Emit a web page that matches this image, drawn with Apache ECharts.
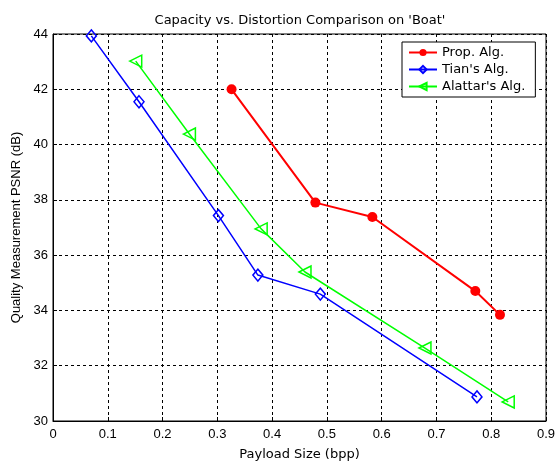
<!DOCTYPE html>
<html>
<head>
<meta charset="utf-8">
<script src="https://cdn.jsdelivr.net/npm/echarts@6/dist/echarts.min.js"></script>
<style>
  html, body { margin: 0; padding: 0; background: #fff; }
  #chart { width: 556px; height: 462px; }
</style>
</head>
<body>
<div id="chart"></div>
<script>
// payload (bpp) vs PSNR (dB)
var propX = [0.326, 0.479, 0.583, 0.771, 0.816];
var propY = [42.0, 37.9, 37.38, 34.7, 33.84];
var tianX = [0.070, 0.157, 0.302, 0.374, 0.488, 0.774];
var tianY = [43.93, 41.55, 37.43, 35.28, 34.59, 30.87];
var alatX = [0.151, 0.249, 0.380, 0.460, 0.679, 0.831];
var alatY = [43.02, 40.38, 36.95, 35.39, 32.64, 30.69];
var seriesNames = ['Prop. Alg.', "Tian's Alg.", "Alattar's Alg."];

function pairs(xs, ys) {
  return xs.map(function(x, i) { return [x, ys[i]]; });
}

var font = 'Liberation Sans, Arial, sans-serif';
var wide = 'DejaVu Sans, sans-serif';
var chart = echarts.init(document.getElementById('chart'), null, { renderer: 'canvas' });

chart.setOption({
  animation: false,
  backgroundColor: '#fff',
  title: {
    text: "Capacity vs. Distortion Comparison on 'Boat'",
    left: 295, top: 9, textAlign: 'center',
    textStyle: { fontFamily: wide, fontSize: 13, fontWeight: 'normal', color: '#000' }
  },
  legend: {
    orient: 'vertical',
    left: 402, top: 42,
    backgroundColor: '#fff',
    borderColor: '#000',
    borderWidth: 1,
    borderRadius: 0,
    padding: [4, 10, 4, 6],
    itemGap: 4,
    itemWidth: 28,
    itemHeight: 9,
    textStyle: { fontFamily: wide, fontSize: 13, color: '#000' },
    data: seriesNames
  },
  grid: {
    left: 53, right: 10, top: 34, bottom: 41,
    outerBoundsMode: 'none',
    show: true, borderColor: '#000', borderWidth: 1, backgroundColor: '#fff'
  },
  xAxis: {
    type: 'value', min: 0, max: 0.9, interval: 0.1,
    name: 'Payload Size (bpp)', nameLocation: 'middle', nameGap: 27,
    nameTextStyle: { fontFamily: wide, fontSize: 13, color: '#000' },
    axisLine: { lineStyle: { color: '#000' } },
    axisTick: { inside: true, length: 4, lineStyle: { color: '#000' } },
    axisLabel: { fontFamily: font, fontSize: 13, color: '#000', margin: 7 },
    splitLine: { lineStyle: { color: '#000', type: [3, 3], width: 1 } }
  },
  yAxis: {
    type: 'value', min: 30, max: 44, interval: 2,
    name: 'Quality Measurement PSNR (dB)', nameLocation: 'middle', nameGap: 29,
    nameTextStyle: { fontFamily: font, fontSize: 13, color: '#000' },
    axisLine: { lineStyle: { color: '#000' } },
    axisTick: { inside: true, length: 4, lineStyle: { color: '#000' } },
    axisLabel: { fontFamily: font, fontSize: 13, color: '#000', margin: 5 },
    splitLine: { lineStyle: { color: '#000', type: [3, 3], width: 1 } }
  },
  series: [
    {
      name: seriesNames[0], type: 'line', data: pairs(propX, propY),
      symbol: 'circle', symbolSize: 10,
      lineStyle: { color: '#ff0000', width: 2 },
      itemStyle: { color: '#ff0000' }
    },
    {
      name: seriesNames[1], type: 'line', data: pairs(tianX, tianY),
      symbol: 'diamond', symbolSize: [10, 12],
      lineStyle: { color: '#0000ff', width: 1.5 },
      itemStyle: { color: 'rgba(0,0,0,0)', borderColor: '#0000ff', borderWidth: 1.5 }
    },
    {
      name: seriesNames[2], type: 'line', data: pairs(alatX, alatY),
      symbol: 'triangle', symbolSize: 12, symbolRotate: 90,
      lineStyle: { color: '#00ff00', width: 1.5 },
      itemStyle: { color: 'rgba(0,0,0,0)', borderColor: '#00ff00', borderWidth: 1.5 }
    }
  ]
});
</script>
</body>
</html>
